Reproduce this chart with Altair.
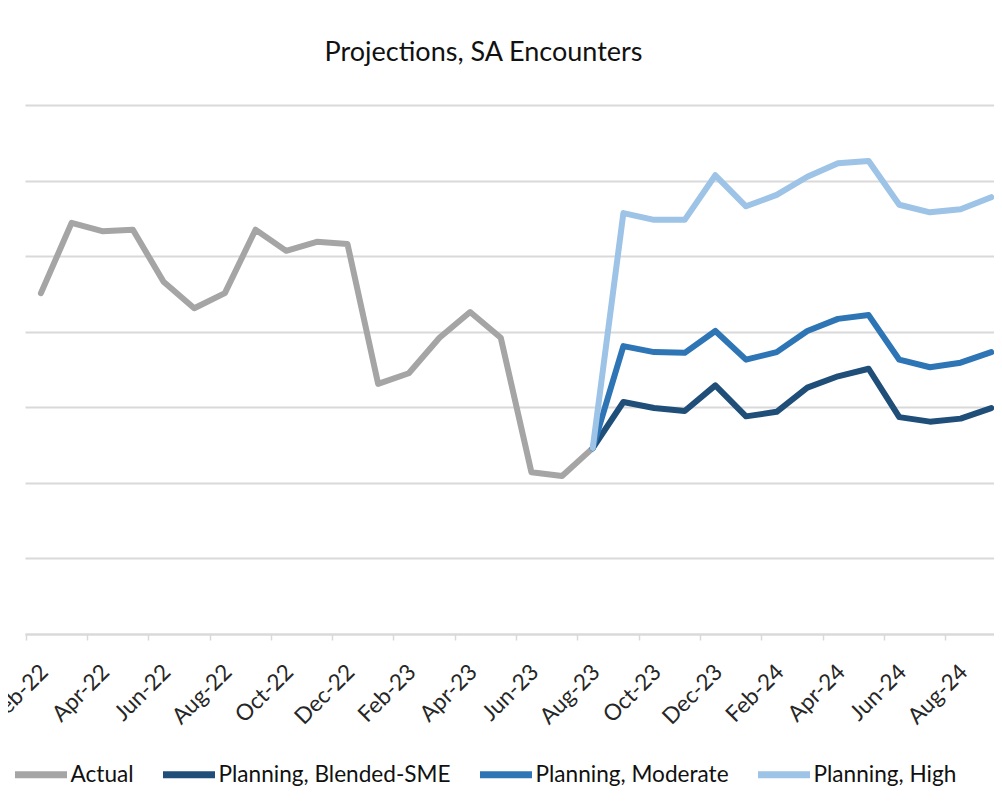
import json
import altair as alt
import pandas as pd

months = ["Feb-22", "Mar-22", "Apr-22", "May-22", "Jun-22", "Jul-22", "Aug-22", "Sep-22",
          "Oct-22", "Nov-22", "Dec-22", "Jan-23", "Feb-23", "Mar-23", "Apr-23", "May-23",
          "Jun-23", "Jul-23", "Aug-23", "Sep-23", "Oct-23", "Nov-23", "Dec-23", "Jan-24",
          "Feb-24", "Mar-24", "Apr-24", "May-24", "Jun-24", "Jul-24", "Aug-24", "Sep-24"]

# Actual: Feb-22 .. Aug-23
actual = [4.51, 5.44, 5.33, 5.35, 4.66, 4.31, 4.51, 5.35, 5.07, 5.19, 5.16,
          3.31, 3.45, 3.92, 4.26, 3.92, 2.14, 2.09, 2.46]
# Projections: Aug-23 .. Sep-24
blended = [2.46, 3.07, 2.99, 2.95, 3.29, 2.88, 2.94, 3.26, 3.41, 3.51, 2.87, 2.81, 2.85, 2.99]
moderate = [2.46, 3.81, 3.73, 3.72, 4.01, 3.63, 3.73, 4.01, 4.17, 4.22, 3.63, 3.53, 3.59, 3.73]
high = [2.46, 5.57, 5.48, 5.48, 6.07, 5.66, 5.81, 6.05, 6.23, 6.26, 5.68, 5.58, 5.62, 5.78]

series_names = ["Actual", "Planning, Blended-SME", "Planning, Moderate", "Planning, High"]
series_colors = ["#A5A5A5", "#1F4E79", "#2E75B6", "#9DC3E6"]
grid_values = [0, 1, 2, 3, 4, 5, 6, 7]

proj_start = months.index("Aug-23")
rows = []
for i, v in enumerate(actual):
    rows.append({"idx": i, "month": months[i], "value": v, "series": series_names[0]})
for name, vals in zip(series_names[1:], [blended, moderate, high]):
    for j, v in enumerate(vals):
        rows.append({"idx": proj_start + j, "month": months[proj_start + j], "value": v, "series": name})
df = pd.DataFrame(rows)

W, H = 969, 529
x_lo, x_hi = -0.52, 31.09
step = W / (x_hi - x_lo)

label_expr = json.dumps(months) + "[datum.value]"

x_enc = alt.X(
    "idx:Q",
    scale=alt.Scale(domain=[x_lo, x_hi], nice=False, zero=False),
    axis=alt.Axis(
        values=list(range(0, len(months), 2)),
        labelExpr=label_expr,
        tickOffset=-step / 2,
        labelOffset=step / 2 + 3,
        labelAngle=-45,
        labelAlign="right",
        labelBaseline="middle",
        labelPadding=28,
        labelFlush=False,
        labelOverlap=False,
        labelBound=False,
        tickSize=6,
        tickColor="#D9D9D9",
        tickWidth=1.5,
        domainColor="#D9D9D9",
        domainWidth=2,
        grid=False,
        title=None,
        labelFont="Lato",
        labelFontSize=22.5,
        labelColor="#262626",
    ),
)
y_enc = alt.Y(
    "value:Q",
    scale=alt.Scale(domain=[0, 7], nice=False, zero=True),
    axis=alt.Axis(values=grid_values, labels=False, ticks=False, domain=False,
                  grid=True, gridColor="#D9D9D9", gridWidth=2, title=None),
)
color_enc = alt.Color(
    "series:N",
    scale=alt.Scale(domain=series_names, range=series_colors),
    legend=alt.Legend(
        orient="none", legendX=-13.5, legendY=640, direction="horizontal", title=None,
        symbolType="stroke", symbolStrokeWidth=7, symbolSize=2704,
        labelFont="Lato", labelFontSize=22.6, labelColor="#111111",
        columnPadding=14, labelOffset=0, padding=0, labelLimit=0,
    ),
)

layers = []
for name in series_names:
    layers.append(
        alt.Chart(df).transform_filter(alt.datum.series == name)
        .mark_line(strokeWidth=6, strokeCap="round", strokeJoin="round")
        .encode(x=x_enc, y=y_enc, color=color_enc,
                tooltip=["month:N", "series:N", "value:Q"])
    )

chart = alt.layer(*layers).properties(
    width=W, height=H,
    background="white",
    title=alt.Title("Projections, SA Encounters", font="Lato", fontSize=27,
                    fontWeight="normal", color="#111111", anchor="middle", dx=-26, offset=38),
    autosize=alt.AutoSizeParams(type="none"),
    padding={"left": 17, "top": 97, "right": 0, "bottom": 165},
).configure_view(strokeWidth=0)

chart.save("out.html", embed_options={"renderer": "svg", "actions": False})
